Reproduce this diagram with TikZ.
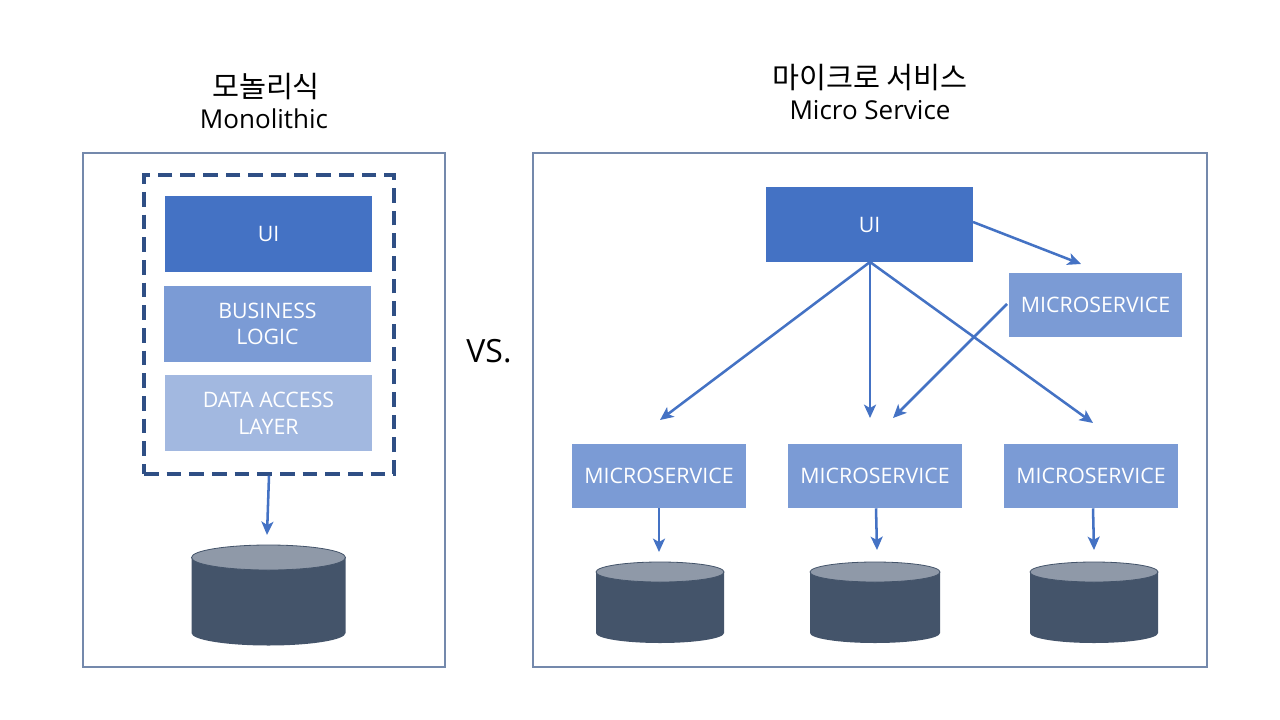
\documentclass[tikz,border=0pt]{standalone}
\usepackage{fontspec}
\setmainfont{Open Sans}
\newfontfamily\kr{Noto Sans CJK KR}
\usetikzlibrary{arrows.meta}
\definecolor{uiblue}{HTML}{4472C4}
\definecolor{midblue}{HTML}{7B9BD5}
\definecolor{lightblue}{HTML}{A2B8E0}
\definecolor{framec}{HTML}{7489AC}
\definecolor{dashc}{HTML}{2F4F85}
\definecolor{dbbody}{HTML}{44546A}
\definecolor{dbtop}{HTML}{8F99A8}
\def\u{0.75pt}
\newcommand{\dbcyl}[5]{% cx, top cy, bottom cy, rx, ry
  \fill[dbbody] (#1-#4,-#2) -- (#1-#4,-#3) arc[start angle=180,end angle=360,x radius=#4*\u,y radius=#5*\u] -- (#1+#4,-#2) -- cycle;
  \filldraw[fill=dbtop,draw=dbbody,line width=0.6pt] (#1,-#2) ellipse[x radius=#4*\u,y radius=#5*\u];
}
\begin{document}
\begin{tikzpicture}[x=0.75pt,y=0.75pt,
  frame/.style={draw=framec,line width=1.4pt},
  box/.style={rectangle,inner sep=0pt,text=white,align=center,font=\fontsize{16}{20}\selectfont},
  conn/.style={draw=uiblue,line width=1.9pt,-{Stealth[length=10pt,width=9pt,inset=2.5pt]}},
  krtitle/.style={font=\kr\fontsize{22}{26}\selectfont},
  entitle/.style={font=\fontsize{19.5}{24}\selectfont}
]
\useasboundingbox (0,0) rectangle (1280,-720);
\fill[white] (0,0) rectangle (1280,-720);

% frames
\draw[frame] (83,-153) rectangle (445,-667);
\draw[frame] (533,-153) rectangle (1207,-667);

% titles
\node[krtitle] (t1k) at (266,-87) {모놀리식};
\node[entitle] (t1e) at (264,-119) {Monolithic};
\node[krtitle] (t2k) at (870,-78) {마이크로 서비스};
\node[entitle] (t2e) at (870,-110) {Micro Service};
\node[font=\fontsize{24}{28}\selectfont] (vs) at (489,-351) {VS.};

% monolithic
\node[draw=dashc,dash pattern=on 11pt off 6pt,line width=2.6pt,rectangle,minimum width=250*\u,minimum height=299*\u,inner sep=0pt] (mono) at (269,-324.5) {};
\node[box,fill=uiblue,minimum width=207*\u,minimum height=76*\u] (mui) at (268.5,-234) {UI};
\node[box,fill=midblue,minimum width=207*\u,minimum height=76*\u] (mbl) at (267.5,-324) {BUSINESS\\LOGIC};
\node[box,fill=lightblue,minimum width=207*\u,minimum height=76*\u] (mdal) at (268.5,-413) {DATA ACCESS\\LAYER};
\coordinate (mdb) at (267,-535);
\draw[conn] (mono.south) -- (mdb);
\dbcyl{268.5}{557.5}{633}{77}{12.5}

% microservice
\node[box,fill=uiblue,minimum width=207*\u,minimum height=75*\u] (rui) at (869.5,-224.5) {UI};
\node[box,fill=midblue,minimum width=173*\u,minimum height=64*\u] (ms0) at (1095.5,-305) {MICROSERVICE};
\node[box,fill=midblue,minimum width=174*\u,minimum height=64*\u] (ms1) at (659,-476) {MICROSERVICE};
\node[box,fill=midblue,minimum width=174*\u,minimum height=64*\u] (ms2) at (875,-476) {MICROSERVICE};
\node[box,fill=midblue,minimum width=174*\u,minimum height=64*\u] (ms3) at (1091,-476) {MICROSERVICE};

\coordinate (a0) at (1081,-264);
\coordinate (a1) at (660,-420);
\coordinate (a2) at (870,-418);
\coordinate (a3) at (1093,-423);
\coordinate (a4) at (893,-418);
\coordinate (uib) at (870,-262);
\coordinate (uir) at (973,-222);
\coordinate (msl) at (1007,-304);
\draw[conn] (uir) -- (a0);
\draw[conn] (uib) -- (a1);
\draw[conn] (uib) -- (a2);
\draw[conn] (uib) -- (a3);
\draw[conn] (msl) -- (a4);

\coordinate (d1) at (659,-552);
\coordinate (d2) at (877,-550);
\coordinate (d3) at (1094,-550);
\draw[conn] ([xshift=0pt]ms1.south) -- (d1);
\draw[conn] ([xshift=0.75pt]ms2.south) -- (d2);
\draw[conn] ([xshift=1.5pt]ms3.south) -- (d3);

\dbcyl{660}{572}{633}{64}{10}
\dbcyl{875}{572}{633}{65}{10}
\dbcyl{1094}{572}{633}{64}{10}
\end{tikzpicture}
\end{document}
